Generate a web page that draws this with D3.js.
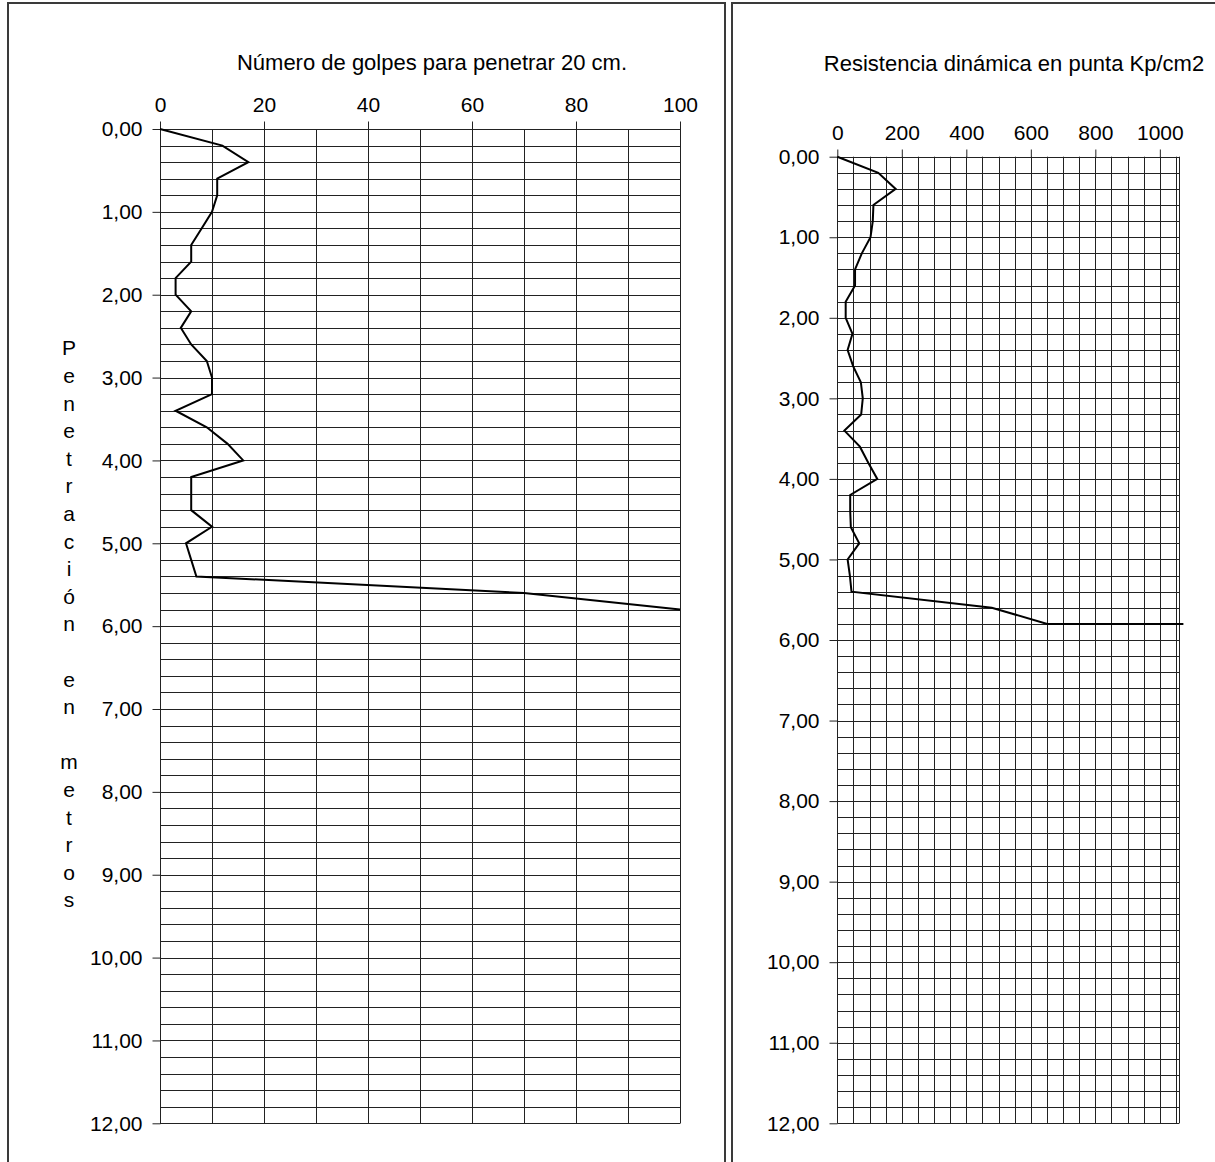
<!DOCTYPE html>
<html><head><meta charset="utf-8">
<script src="https://cdn.jsdelivr.net/npm/d3@7"></script>
<style>
body{margin:0;background:#fff;}
svg{display:block;font-family:"Liberation Sans",Arial,sans-serif;}
</style></head>
<body>
<svg id="c" width="1215" height="1162"></svg>
<script>
// ---- data ----
const depthsLeft = [0,0.2,0.4,0.6,0.8,1.0,1.2,1.4,1.6,1.8,2.0,2.2,2.4,2.6,2.8,3.0,3.2,3.4,3.6,3.8,4.0,4.2,4.4,4.6,4.8,5.0,5.2,5.4,5.6,5.8];
const golpes = [0,12,17,11,11,10,8,6,6,3,3,6,4,6,9,10,10,3,9,13,16,6,6,6,10,5,6,7,70,100];
const depthsRight = [0,0.2,0.4,0.6,0.8,1.0,1.2,1.4,1.6,1.8,2.0,2.2,2.4,2.6,2.8,3.0,3.2,3.4,3.6,3.8,4.0,4.2,4.4,4.6,4.8,5.0,5.2,5.4,5.6,5.8,5.8];
const resistencia = [0,127,181,112,110,103,76,55,55,26,26,47,32,49,73,79,74,22,70,96,124,40,40,42,68,32,39,44,479,651,1073];
const leftTitle = "Número de golpes para penetrar 20 cm.";
const rightTitle = "Resistencia dinámica en punta Kp/cm2";
const yAxisLabel = "Penetración en metros";
const leftXTicks = [0,20,40,60,80,100];
const rightXTicks = [0,200,400,600,800,1000];
const yTicks = [0,1,2,3,4,5,6,7,8,9,10,11,12];

const svg = d3.select("#c");
const fmt = d => d.toFixed(2).replace(".", ",");
const FS = 21;

// frames
svg.append("rect").attr("x",8).attr("y",3).attr("width",717).attr("height",1200)
  .attr("fill","none").attr("stroke","#3a3a3a").attr("stroke-width",2);
svg.append("rect").attr("x",732).attr("y",3).attr("width",600).attr("height",1200)
  .attr("fill","none").attr("stroke","#3a3a3a").attr("stroke-width",2);

function panel(cfg){
  const g = svg.append("g");
  const x = d3.scaleLinear().domain(cfg.xDomain).range(cfg.xRange);
  const y = d3.scaleLinear().domain([0,12]).range(cfg.yRange);
  // horizontal grid every 0.2 m
  const hLines = d3.range(0, 60).map(i => i*0.2).concat([12]);
  g.append("g").selectAll("line").data(hLines).join("line")
    .attr("x1", x(cfg.xDomain[0])).attr("x2", x(cfg.xDomain[1]))
    .attr("y1", d => Math.round(y(d))+0.5).attr("y2", d => Math.round(y(d))+0.5)
    .attr("stroke","#222").attr("stroke-width",1);
  // vertical grid
  const vLines = d3.range(cfg.xDomain[0], cfg.xDomain[1]+1e-6, cfg.vStep).concat([cfg.xDomain[1]]);
  g.append("g").selectAll("line").data(vLines).join("line")
    .attr("x1", d => Math.round(x(d))+0.5).attr("x2", d => Math.round(x(d))+0.5)
    .attr("y1", y(0)).attr("y2", y(12))
    .attr("stroke","#222").attr("stroke-width",1);
  // top axis
  const ax = g.append("g").attr("transform",`translate(0,${Math.round(y(0))+0.5})`)
    .call(d3.axisTop(x).tickValues(cfg.xTicks).tickSize(8).tickPadding(cfg.xPad).tickFormat(d3.format("d")));
  ax.select(".domain").remove();
  ax.selectAll("line").attr("stroke","#222");
  ax.selectAll("text").attr("font-size",FS).attr("fill","#000").attr("font-family","Liberation Sans, Arial, sans-serif");
  // left axis
  const ay = g.append("g").attr("transform",`translate(${Math.round(x(0))+0.5},0)`)
    .call(d3.axisLeft(y).tickValues(yTicks).tickSize(8).tickPadding(10).tickFormat(fmt));
  ay.select(".domain").remove();
  ay.selectAll("line").attr("stroke","#222");
  ay.selectAll("text").attr("font-size",FS).attr("fill","#000").attr("font-family","Liberation Sans, Arial, sans-serif");
  // data line
  const pts = cfg.depths.map((d,i) => [cfg.values[i], d]);
  g.append("path").datum(pts)
    .attr("d", d3.line().x(p => x(p[0])).y(p => y(p[1])))
    .attr("fill","none").attr("stroke","#000").attr("stroke-width",2).attr("stroke-linejoin","miter");
  // title
  g.append("text").attr("x",cfg.titleX).attr("y",cfg.titleY).attr("text-anchor","middle")
    .attr("font-size",22).attr("fill","#000").text(cfg.title);
}

panel({xDomain:[0,100], xRange:[160,680], yRange:[129,1123.3], vStep:10, xTicks:leftXTicks, xPad:10,
  depths:depthsLeft, values:golpes, title:leftTitle, titleX:432, titleY:70});
panel({xDomain:[0,1060], xRange:[837.3,1179.2], yRange:[156.7,1123.3], vStep:50, xTicks:rightXTicks, xPad:10,
  depths:depthsRight, values:resistencia, title:rightTitle, titleX:1014, titleY:71});

// vertical stacked axis label
const chars = Array.from(yAxisLabel);
svg.append("g").selectAll("text").data(chars).join("text")
  .attr("x",69).attr("y",(d,i)=>348 + i*27.6).attr("dy","0.35em")
  .attr("text-anchor","middle").attr("font-size",FS).attr("fill","#000")
  .text(d => d);
</script>
</body></html>
